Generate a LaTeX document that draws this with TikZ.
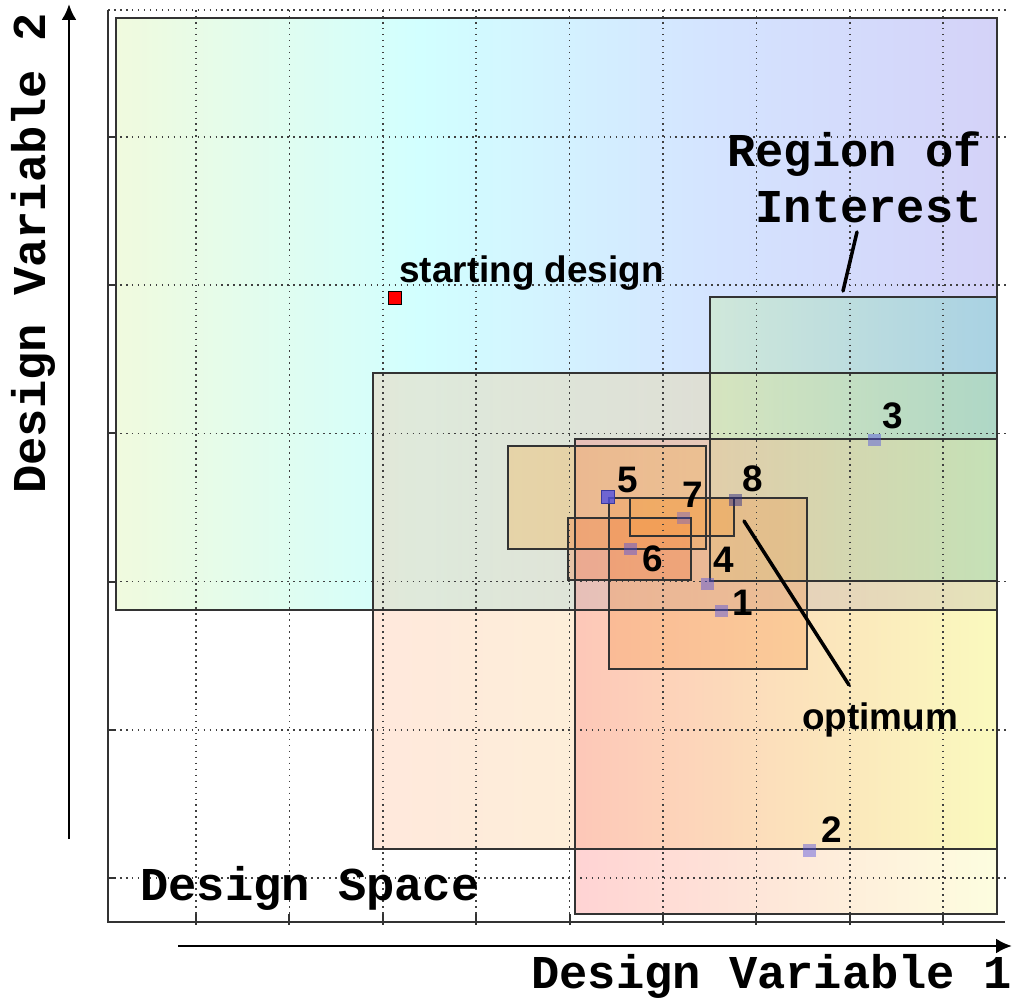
\documentclass[tikz,border=0pt]{standalone}
\usepackage{fontspec}
\usepackage{tikz}
\usetikzlibrary{arrows,arrows.meta,backgrounds,calc,positioning}
\newfontfamily\axisfont{Liberation Mono}
\newfontfamily\tagfont{Liberation Sans}
\definecolor{dsL}{RGB}{240,250,222}
\definecolor{dsM}{RGB}{210,255,255}
\definecolor{dsB}{RGB}{212,228,255}
\definecolor{dsR}{RGB}{212,210,248}
\definecolor{rtwoL}{RGB}{255,180,140}
\definecolor{rtwoR}{RGB}{240,240,100}
\definecolor{rthreeL}{RGB}{200,240,150}
\definecolor{rthreeR}{RGB}{90,210,190}
\definecolor{rfourL}{RGB}{255,110,110}
\definecolor{rfourR}{RGB}{250,250,150}
\definecolor{subbox}{RGB}{245,150,70}
\definecolor{ptblue}{RGB}{80,80,225}
\tikzset{
  region/.style={draw=black!80,line width=0.9pt},
  gridline/.style={black!75,line width=0.9pt,dash pattern=on 0.9pt off 2.5pt},
  axisline/.style={black!80,line width=1.1pt},
  bigarrow/.style={line width=1.7pt,-{Latex[length=9pt,width=8.5pt]}},
  pointer/.style={line width=2pt,line cap=round},
  pt/.style={inner sep=0,minimum size=0.26cm,fill=ptblue,fill opacity=0.45},
  tag/.style={inner sep=0,anchor=base west,font=\tagfont\bfseries\fontsize{21}{25}\selectfont},
  title/.style={inner sep=0,font=\axisfont\bfseries\fontsize{26.8}{32}\selectfont}
}
\begin{document}
\begin{tikzpicture}[x=0.02cm,y=-0.02cm]
\useasboundingbox (0,0) rectangle (1012,1000);
% design space and regions of interest
\shade[left color=dsL,right color=dsM] (116,18) rectangle (420,610);
\shade[left color=dsM,right color=dsR,middle color=dsB] (420,18) rectangle (997,610);
\shade[left color=rtwoL,right color=rtwoR,fill opacity=0.3] (373,373) rectangle (997,849);
\shade[left color=rthreeL,right color=rthreeR,fill opacity=0.35] (710,297) rectangle (997,581);
\shade[left color=rfourL,right color=rfourR,fill opacity=0.3] (575,439) rectangle (997,914);
\fill[subbox!80!yellow,fill opacity=0.3] (508,446) rectangle (706,549);
\fill[subbox,fill opacity=0.3] (609,498) rectangle (807,669);
\fill[subbox!80!red,fill opacity=0.3] (568,518) rectangle (691,580);
\fill[subbox!90!yellow,fill opacity=0.35] (630,498) rectangle (734,536);
% grid
\foreach \x in {196,289.4,382.8,476.2,569.6,663,756.4,849.8,943.2}
  \draw[gridline] (\x,10) -- (\x,922);
\foreach \y in {10,137,285.2,433.4,581.6,729.8,878}
  \draw[gridline] (108,\y) -- (1010,\y);
% borders
\draw[region] (116,18) rectangle (997,610);
\draw[region] (373,373) rectangle (997,849);
\draw[region] (710,297) rectangle (997,581);
\draw[region] (575,439) rectangle (997,914);
\draw[region] (508,446) rectangle (706,549);
\draw[region] (609,498) rectangle (807,669);
\draw[region] (568,518) rectangle (691,580);
\draw[region] (630,498) rectangle (734,536);
% axes
\draw[axisline] (108,10) -- (108,922) -- (1005,922);
\foreach \y in {137,285.2,433.4,581.6,729.8,878}
  \draw[axisline] (108,\y) -- (116,\y);
\foreach \x in {196,289.4,382.8,476.2,569.6,663,756.4,849.8,943.2}
  \draw[axisline] (\x,914) -- (\x,925);
\coordinate (V0) at (69,839);
\coordinate (V1) at (69,4);
\coordinate (H0) at (178,946);
\coordinate (H1) at (1012,946);
\draw[bigarrow] (V0) -- (V1);
\draw[bigarrow] (H0) -- (H1);
\node[title,rotate=90,anchor=base west] (dv2) at (46,494) {Design Variable 2};
\node[title,anchor=base west] (dv1) at (531,988) {Design Variable 1};
\node[title,anchor=base west] (ds) at (140,900) {Design Space};
\node[title,align=right,anchor=north east] (roi) at (982,131) {Region of\\Interest};
% designs
\node[inner sep=0,minimum size=0.27cm,fill=red,draw=black,line width=0.8pt] (S) at (395,298) {};
\node[tag] (Slab) at (399,283) {starting design};
\node[pt] (P1) at (721,611) {};
\node[pt] (P2) at (809,850) {};
\node[pt] (P3) at (874,440) {};
\node[pt] (P4) at (707,584) {};
\node[pt,fill opacity=0.8,draw=ptblue!70!black,line width=0.5pt] (P5) at (608,497) {};
\node[pt] (P6) at (630,549) {};
\node[pt,fill opacity=0.35] (P7) at (683,518) {};
\node[pt,fill=ptblue!60!black,fill opacity=0.5] (P8) at (735,500) {};
\node[tag] (L1) at (732,616) {1};
\node[tag] (L2) at (821,842) {2};
\node[tag] (L3) at (882,429) {3};
\node[tag] (L4) at (713,573) {4};
\node[tag] (L5) at (617,493) {5};
\node[tag] (L6) at (642,572) {6};
\node[tag] (L7) at (682,508) {7};
\node[tag] (L8) at (742,492) {8};
\node[tag] (opt) at (802,729) {optimum};
% pointers
\coordinate (O1) at (744,521);
\coordinate (O2) at (849,685);
\draw[pointer] (O1) -- (O2);
\coordinate (R1) at (857,232);
\coordinate (R2) at (843,291);
\draw[pointer] (R1) -- (R2);
\end{tikzpicture}
\end{document}
